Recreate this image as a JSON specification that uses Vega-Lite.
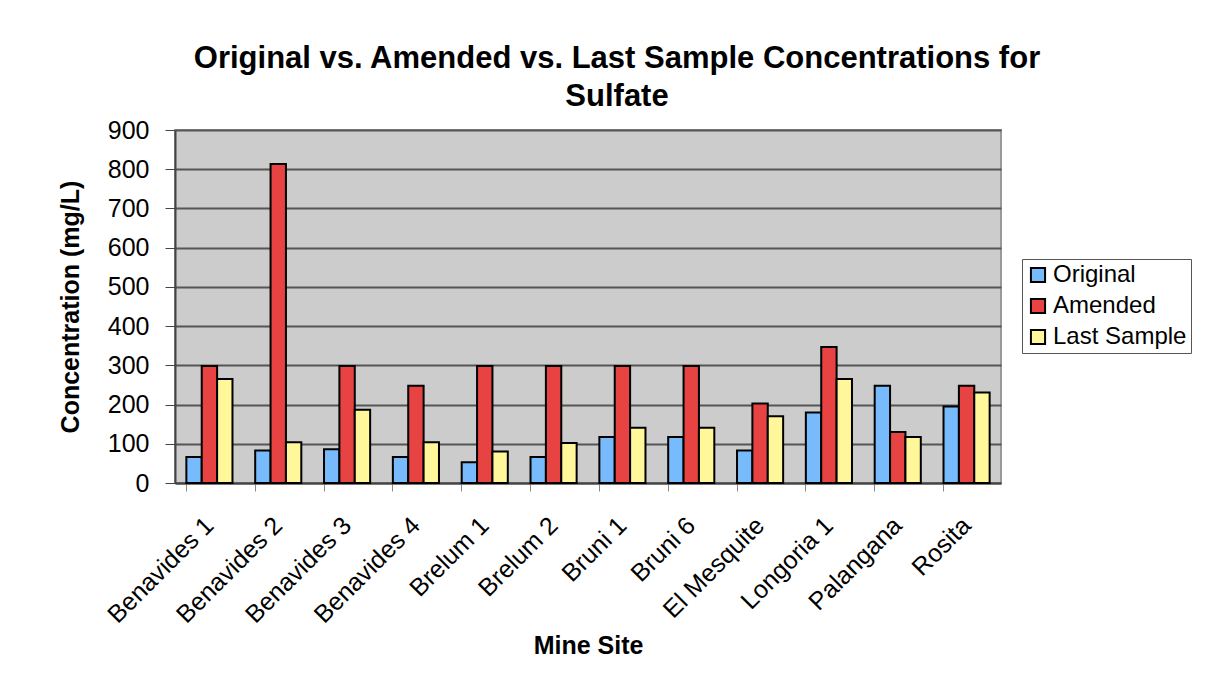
{
  "$schema": "https://vega.github.io/schema/vega-lite/v6.json",
  "autosize": "none",
  "width": 826,
  "height": 353,
  "padding": {"left": 175, "top": 130, "right": 211, "bottom": 201},
  "background": "white",
  "title": {
    "text": ["Original vs. Amended vs. Last Sample Concentrations for", "Sulfate"],
    "font": "Liberation Sans",
    "fontSize": 31,
    "fontWeight": "bold",
    "color": "#000",
    "anchor": "middle",
    "dx": 29,
    "offset": 5,
    "lineHeight": 38
  },
  "data": {
    "values": [
      {"site": "Benavides 1", "series": "Original", "value": 66},
      {"site": "Benavides 1", "series": "Amended", "value": 298},
      {"site": "Benavides 1", "series": "Last Sample", "value": 265},
      {"site": "Benavides 2", "series": "Original", "value": 83},
      {"site": "Benavides 2", "series": "Amended", "value": 813},
      {"site": "Benavides 2", "series": "Last Sample", "value": 104},
      {"site": "Benavides 3", "series": "Original", "value": 86},
      {"site": "Benavides 3", "series": "Amended", "value": 298},
      {"site": "Benavides 3", "series": "Last Sample", "value": 187},
      {"site": "Benavides 4", "series": "Original", "value": 66},
      {"site": "Benavides 4", "series": "Amended", "value": 248},
      {"site": "Benavides 4", "series": "Last Sample", "value": 104},
      {"site": "Brelum 1", "series": "Original", "value": 53},
      {"site": "Brelum 1", "series": "Amended", "value": 298},
      {"site": "Brelum 1", "series": "Last Sample", "value": 80},
      {"site": "Brelum 2", "series": "Original", "value": 66},
      {"site": "Brelum 2", "series": "Amended", "value": 298},
      {"site": "Brelum 2", "series": "Last Sample", "value": 102},
      {"site": "Bruni 1", "series": "Original", "value": 117},
      {"site": "Bruni 1", "series": "Amended", "value": 298},
      {"site": "Bruni 1", "series": "Last Sample", "value": 141},
      {"site": "Bruni 6", "series": "Original", "value": 117},
      {"site": "Bruni 6", "series": "Amended", "value": 298},
      {"site": "Bruni 6", "series": "Last Sample", "value": 141},
      {"site": "El Mesquite", "series": "Original", "value": 83},
      {"site": "El Mesquite", "series": "Amended", "value": 203},
      {"site": "El Mesquite", "series": "Last Sample", "value": 170},
      {"site": "Longoria 1", "series": "Original", "value": 180},
      {"site": "Longoria 1", "series": "Amended", "value": 347},
      {"site": "Longoria 1", "series": "Last Sample", "value": 265},
      {"site": "Palangana", "series": "Original", "value": 248},
      {"site": "Palangana", "series": "Amended", "value": 130},
      {"site": "Palangana", "series": "Last Sample", "value": 117},
      {"site": "Rosita", "series": "Original", "value": 195},
      {"site": "Rosita", "series": "Amended", "value": 248},
      {"site": "Rosita", "series": "Last Sample", "value": 231}
    ]
  },
  "mark": {"type": "bar", "stroke": "#000", "strokeWidth": 2},
  "encoding": {
    "x": {
      "field": "site",
      "type": "nominal",
      "sort": null,
      "title": "Mine Site",
      "scale": {"paddingInner": 0.33, "paddingOuter": 0.165},
      "axis": {
        "labelAngle": -45,
        "labelAlign": "right",
        "labelBaseline": "middle",
        "labelFont": "Liberation Sans",
        "labelFontSize": 25,
        "labelColor": "#000",
        "labelPadding": 30,
        "labelLimit": 300,
        "bandPosition": 0,
        "tickColor": "#888",
        "tickSize": 8,
        "domainColor": "#444",
        "domainWidth": 2,
        "titleFont": "Liberation Sans",
        "titleFontSize": 25,
        "titleFontWeight": "bold",
        "titleColor": "#000",
        "titlePadding": 6
      }
    },
    "xOffset": {"field": "series", "type": "nominal", "sort": ["Original", "Amended", "Last Sample"]},
    "y": {
      "field": "value",
      "type": "quantitative",
      "title": "Concentration (mg/L)",
      "scale": {"domain": [0, 900]},
      "axis": {
        "values": [0, 100, 200, 300, 400, 500, 600, 700, 800, 900],
        "labelFont": "Liberation Sans",
        "labelFontSize": 25,
        "labelColor": "#000",
        "labelPadding": 16,
        "tickColor": "#444",
        "tickSize": 10,
        "domainColor": "#444",
        "domainWidth": 2,
        "gridColor": "#555",
        "gridWidth": 2,
        "titleFont": "Liberation Sans",
        "titleFontSize": 25,
        "titleFontWeight": "bold",
        "titleColor": "#000",
        "titlePadding": 24
      }
    },
    "color": {
      "field": "series",
      "type": "nominal",
      "sort": ["Original", "Amended", "Last Sample"],
      "scale": {"domain": ["Original", "Amended", "Last Sample"], "range": ["#77BBFD", "#E84343", "#FFF799"]},
      "legend": {
        "title": null,
        "orient": "none",
        "legendX": 847,
        "legendY": 129,
        "symbolType": "square",
        "symbolSize": 200,
        "symbolStrokeColor": "#000",
        "symbolStrokeWidth": 2,
        "labelFont": "Liberation Sans",
        "labelFontSize": 24,
        "labelColor": "#000",
        "labelOffset": 3,
        "rowPadding": 7,
        "padding": 4,
        "strokeColor": "#555",
        "fillColor": "white"
      }
    }
  },
  "config": {
    "view": {"fill": "#CCCCCC", "stroke": "#999", "strokeWidth": 2}
  }
}
